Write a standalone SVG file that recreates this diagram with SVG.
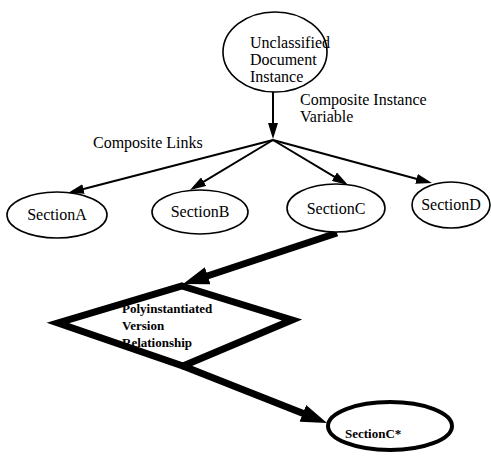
<svg xmlns="http://www.w3.org/2000/svg" width="491" height="459" viewBox="0 0 491 459">
<style>
  .n { fill: #fff; stroke: #000; stroke-width: 1.6; }
  .t { font-family: "Liberation Serif", "Times New Roman", serif; font-size: 16px; fill: #000; }
  .tb { font-family: "Liberation Serif", "Times New Roman", serif; font-size: 13px; font-weight: bold; fill: #000; }
  .thin { fill: none; stroke: #000; stroke-width: 2; }
  .thick { fill: none; stroke: #000; stroke-width: 7; }
</style>
<defs>
  <marker id="ah" viewBox="0 0 16 10" markerWidth="16" markerHeight="10" refX="12" refY="5" orient="auto" markerUnits="userSpaceOnUse">
    <path d="M0,0 L16,5 L0,10 z" fill="#000"/>
  </marker>
  <marker id="ahb" viewBox="0 0 26 18" markerWidth="26" markerHeight="18" refX="6" refY="9" orient="auto" markerUnits="userSpaceOnUse">
    <path d="M0,0 L26,9 L0,18 z" fill="#000"/>
  </marker>
</defs>
<rect width="491" height="459" fill="#fff"/>
<g id="connectors">
  <path class="thin" d="M273,92 L273,135" marker-end="url(#ah)"/>
  <path class="thin" d="M273,140 L71.9,192" marker-end="url(#ah)"/>
  <path class="thin" d="M273,140 L193.4,187.9" marker-end="url(#ah)"/>
  <path class="thin" d="M273,140 L344.6,182.9" marker-end="url(#ah)"/>
  <path class="thin" d="M273,140 L428.1,182" marker-end="url(#ah)"/>
  <path class="thick" d="M337,233 L202,277.7" marker-end="url(#ahb)"/>
  <path class="thick" d="M183,366 L308.4,415.6" marker-end="url(#ahb)"/>
  <text class="t" x="300" y="105">Composite Instance</text>
  <text class="t" x="300" y="122">Variable</text>
  <text class="t" x="93" y="148">Composite Links</text>
</g>
<g id="unclassified">
  <ellipse class="n" cx="275" cy="52" rx="52" ry="40"/>
  <text class="t" x="250" y="48" font-size="17">Unclassified</text>
  <text class="t" x="250" y="65" font-size="17">Document</text>
  <text class="t" x="250" y="82" font-size="17">Instance</text>
</g>
<g id="sectionA">
  <ellipse class="n" cx="57" cy="215" rx="50" ry="23"/>
  <text class="t" x="57" y="220" text-anchor="middle">SectionA</text>
</g>
<g id="sectionB">
  <ellipse class="n" cx="200" cy="212" rx="48" ry="22"/>
  <text class="t" x="200" y="217" text-anchor="middle">SectionB</text>
</g>
<g id="sectionC">
  <ellipse class="n" cx="336" cy="208" rx="49" ry="24"/>
  <text class="t" x="336" y="214" text-anchor="middle">SectionC</text>
</g>
<g id="sectionD">
  <ellipse class="n" cx="451" cy="205" rx="39" ry="23"/>
  <text class="t" x="451" y="210" text-anchor="middle">SectionD</text>
</g>
<g id="relationship">
  <polygon points="182,286 292,320 183,366 58,323" fill="#fff" stroke="#000" stroke-width="7" stroke-linejoin="miter"/>
  <text class="tb" x="122" y="313">Polyinstantiated</text>
  <text class="tb" x="122" y="330">Version</text>
  <text class="tb" x="122" y="347">Relationship</text>
</g>
<g id="sectionCstar">
  <ellipse cx="390" cy="426" rx="62" ry="24" fill="#fff" stroke="#000" stroke-width="4"/>
  <text class="tb" x="345" y="438" font-size="13">SectionC*</text>
</g>
</svg>
